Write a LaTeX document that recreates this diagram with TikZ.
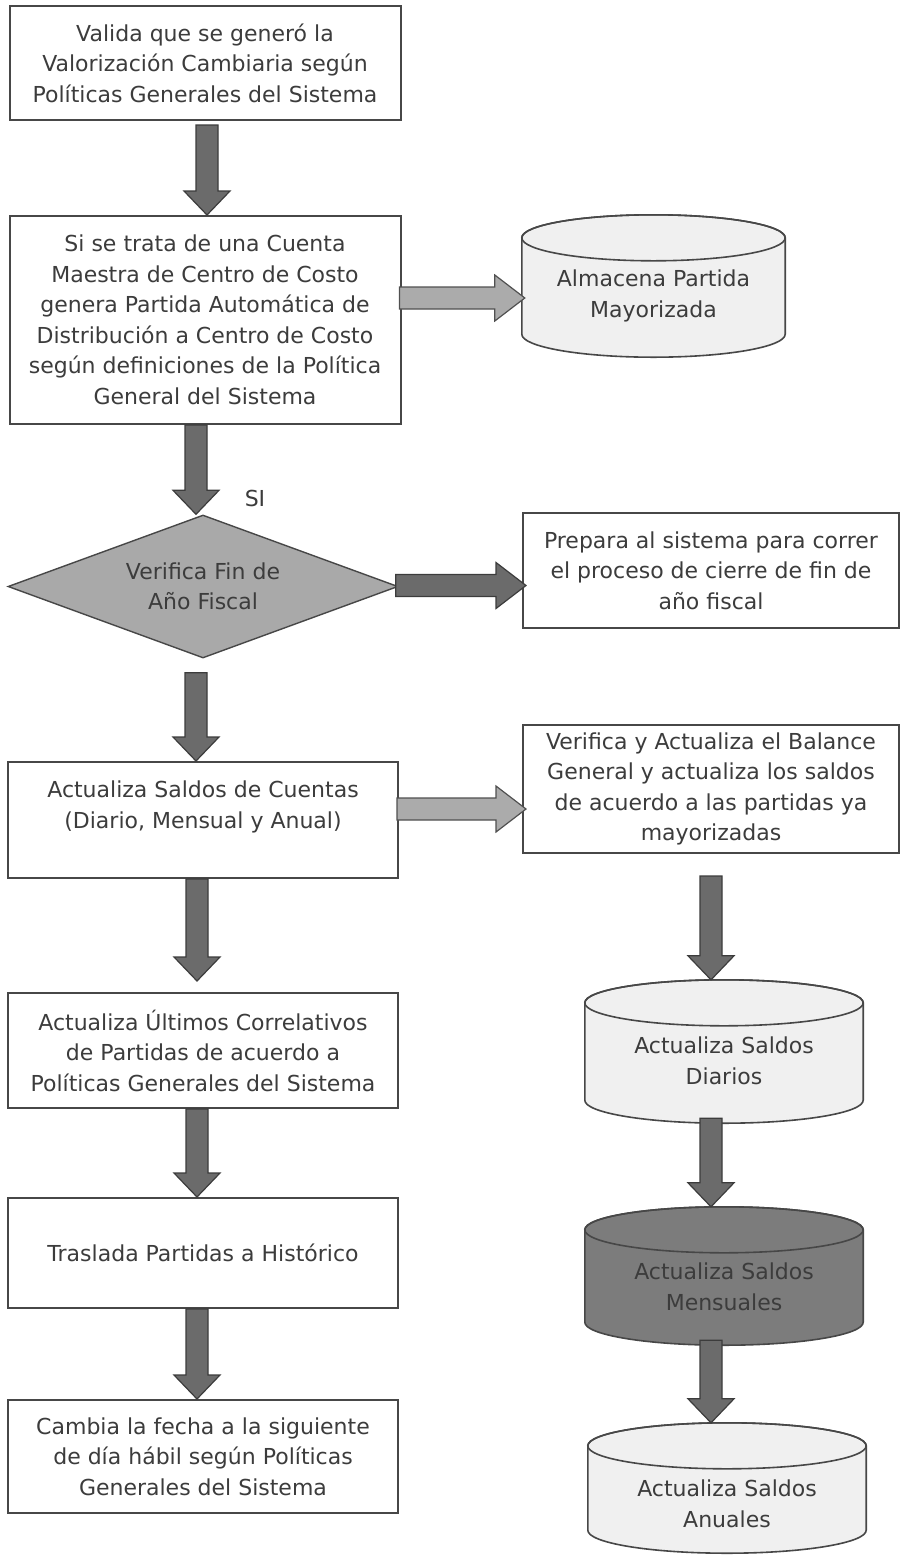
\documentclass[tikz,border=0pt]{standalone}
\usepackage{fontspec}
\setmainfont{DejaVu Sans}
\usetikzlibrary{shapes.geometric,calc}
\definecolor{lc}{HTML}{474747}
\definecolor{txt}{HTML}{3C3C3C}
\definecolor{darkfill}{HTML}{6B6B6B}
\definecolor{darkline}{HTML}{3C3C3C}
\definecolor{lightfill}{HTML}{ABABAB}
\definecolor{lightline}{HTML}{505050}
\definecolor{dfill}{HTML}{A9A9A9}
\definecolor{cylfill}{HTML}{F0F0F0}
\definecolor{cyldark}{HTML}{7C7C7C}
\newcommand{\drawcyl}[2]{%
  \filldraw[draw=lc, line width=1.6pt, fill=#2] let \p1=(#1.north west), \p2=(#1.south east), \n1={(\x2-\x1)/2} in
    (\x1,\y1-23pt) -- (\x1,\y2+23pt) arc[start angle=180, end angle=360, x radius=\n1, y radius=23pt]
    -- (\x2,\y1-23pt) arc[start angle=0, end angle=180, x radius=\n1, y radius=23pt] -- cycle;
  \draw[lc, line width=1.6pt] let \p1=(#1.north west), \p2=(#1.south east), \n1={(\x2-\x1)/2} in
    (\x1+\n1,\y1-23pt) ellipse[x radius=\n1, y radius=23pt];
}
\begin{document}
\begin{tikzpicture}[x=1pt,y=-1pt, font=\fontsize{22}{30.5}\selectfont, text=txt,
  box/.style={draw=lc, line width=2pt, fill=white, rectangle, align=center, inner sep=0pt},
  cylbox/.style={rectangle, draw=none, inner sep=0pt},
  ctext/.style={align=center, inner sep=0pt},
  darrow/.style={fill=darkfill, draw=darkline, line width=1.2pt, line join=miter},
  larrow/.style={fill=lightfill, draw=lightline, line width=1.2pt, line join=miter},
  vblock/.style={to path={let \p1=(\tikztostart), \p2=(\tikztotarget) in
     (\x1-11pt,\y1) -- (\x1+11pt,\y1) -- (\x1+11pt,\y2+24pt) -- (\x1+23pt,\y2+24pt)
     -- (\x1,\y2) -- (\x1-23pt,\y2+24pt) -- (\x1-11pt,\y2+24pt) -- cycle}},
  hblock/.style={to path={let \p1=(\tikztostart), \p2=(\tikztotarget) in
     (\x1,\y1+11pt) -- (\x2-30pt,\y1+11pt) -- (\x2-30pt,\y1+23pt) -- (\x2,\y1)
     -- (\x2-30pt,\y1-23pt) -- (\x2-30pt,\y1-11pt) -- (\x1,\y1-11pt) -- cycle}}
]
\fill[white] (0,0) rectangle (901,1556);
\useasboundingbox (0,0) rectangle (901,1556);

% left column
\node[box, minimum width=391pt, minimum height=114pt] (b1) at (205,63)
  {Valida que se generó la\\Valorización Cambiaria según\\Políticas Generales del Sistema};
\node[box, minimum width=391pt, minimum height=208pt] (b2) at (205,320)
  {Si se trata de una Cuenta\\Maestra de Centro de Costo\\genera Partida Automática de\\Distribución a Centro de Costo\\según definiciones de la Política\\General del Sistema};
\node[diamond, draw=lc, line width=1.4pt, fill=dfill, aspect=2.73, minimum width=390pt, minimum height=143pt, inner sep=0pt, align=center] (d) at (203,586.5)
  {Verifica Fin de\\Año Fiscal};
\node (si) at (255,498) {SI};
\node[box, minimum width=390pt, minimum height=116pt] (b4) at (203,820)
  {Actualiza Saldos de Cuentas\\(Diario, Mensual y Anual)\\\mbox{}};
\node[box, minimum width=390pt, minimum height=115pt] (b5) at (203,1050.5)
  {Actualiza Últimos Correlativos\\de Partidas de acuerdo a\\Políticas Generales del Sistema};
\node[box, minimum width=390pt, minimum height=110pt] (b6) at (203,1253)
  {Traslada Partidas a Histórico};
\node[box, minimum width=390pt, minimum height=113pt] (b7) at (203,1456.5)
  {Cambia la fecha a la siguiente\\de día hábil según Políticas\\Generales del Sistema};

% right column
\node[cylbox, minimum width=263pt, minimum height=142pt] (c1) at (653.5,286) {};
\drawcyl{c1}{cylfill}
\node[ctext] (c1t) at (653.5,296) {Almacena Partida\\Mayorizada};
\node[box, minimum width=376pt, minimum height=115pt] (p) at (711,570.5)
  {Prepara al sistema para correr\\el proceso de cierre de fin de\\año fiscal};
\node[box, minimum width=376pt, minimum height=128pt] (v) at (711,789)
  {Verifica y Actualiza el Balance\\General y actualiza los saldos\\de acuerdo a las partidas ya\\mayorizadas};
\node[cylbox, minimum width=278pt, minimum height=143pt] (c2) at (724,1051.5) {};
\drawcyl{c2}{cylfill}
\node[ctext] (c2t) at (724,1061) {Actualiza Saldos\\Diarios};
\node[cylbox, minimum width=278pt, minimum height=138pt] (c3) at (724,1276) {};
\drawcyl{c3}{cyldark}
\node[ctext] (c3t) at (724,1287) {Actualiza Saldos\\Mensuales};
\node[cylbox, minimum width=278pt, minimum height=130pt] (c4) at (727,1488) {};
\drawcyl{c4}{cylfill}
\node[ctext] (c4t) at (727,1504) {Actualiza Saldos\\Anuales};

% vertical arrows
\path[darrow, vblock] ($(b1.south)+(2,4)$) to (b2.north);
\path[darrow, vblock] ($(b2.south)+(-9,0)$) to (d.north);
\path[darrow, vblock] ($(d.south)+(-7,14)$) to (b4.north);
\path[darrow, vblock] ($(b4.south)+(-6,0)$) to ($(b5.north)+(0,-11)$);
\path[darrow, vblock] ($(b5.south)+(-6,0)$) to (b6.north);
\path[darrow, vblock] ($(b6.south)+(-6,0)$) to (b7.north);
\path[darrow, vblock] ($(v.south)+(0,22)$) to (c2.north);
\path[darrow, vblock] ($(c2.south)+(-13,-5)$) to (c3.north);
\path[darrow, vblock] ($(c3.south)+(-13,-5)$) to (c4.north);

% horizontal arrows
\path[larrow, hblock] ($(b2.east)+(-2,-22)$) to ($(c1.west)+(3,0)$);
\path[darrow, hblock] ($(d.east)+(-3,-1)$) to ($(p.west)+(4,0)$);
\path[larrow, hblock] ($(b4.east)+(-2,-11)$) to ($(v.west)+(4,0)$);
\end{tikzpicture}
\end{document}
